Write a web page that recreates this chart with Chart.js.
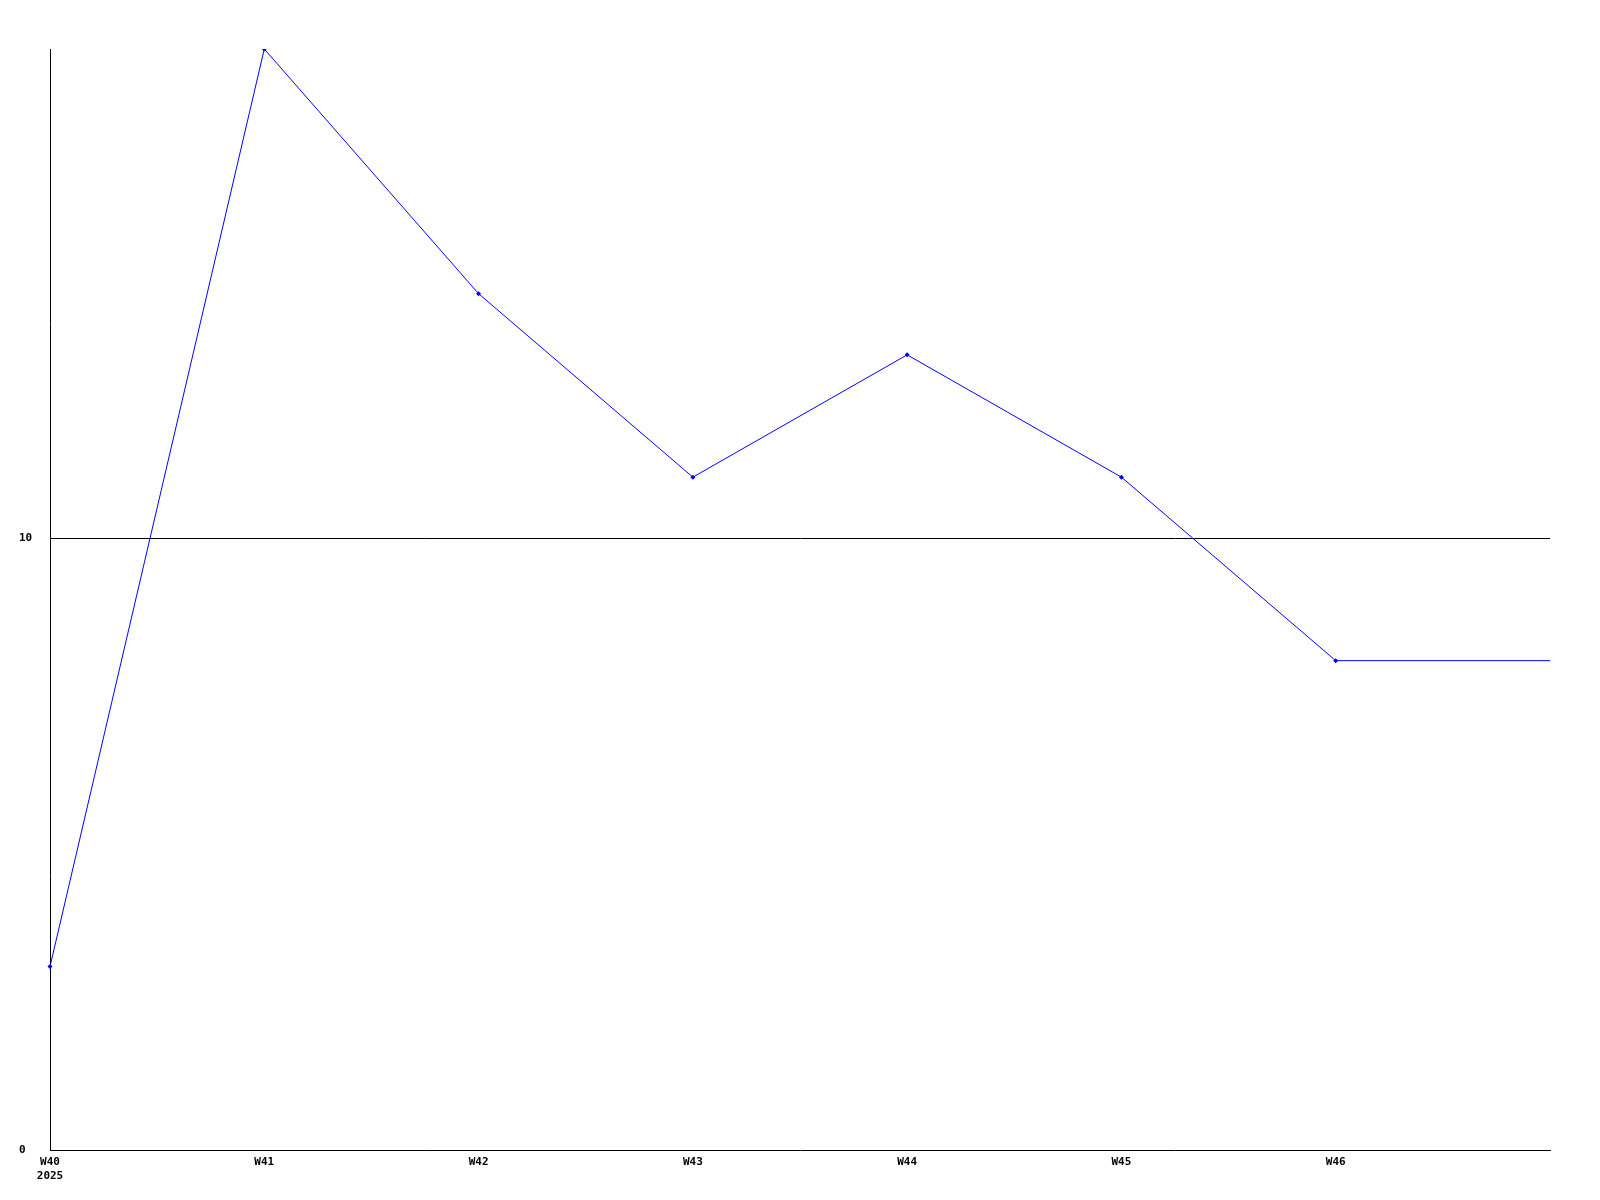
<!DOCTYPE html>
<html>
<head>
<meta charset="utf-8">
<script src="https://cdn.jsdelivr.net/npm/chart.js@4/dist/chart.umd.min.js"></script>
<style>
html,body{margin:0;padding:0;background:#fff;}
#wrap{width:1600px;height:1200px;position:relative;}
</style>
</head>
<body>
<div id="wrap"><canvas id="c" width="1600" height="1200"></canvas></div>
<script>
const weeks = [["W40","2025"],"W41","W42","W43","W44","W45","W46",""];
const values = [3, 18, 14, 11, 13, 11, 8, 8];
const yTicks = [0, 10];
const yMin = 0, yMax = 18;

const font = {family: "'DejaVu Sans Mono', 'Liberation Mono', monospace", size: 11, weight: 'bold'};

new Chart(document.getElementById('c'), {
  type: 'line',
  data: {
    labels: weeks,
    datasets: [{
      data: values,
      borderColor: '#0000ff',
      backgroundColor: '#0000ff',
      borderWidth: 1,
      pointStyle: 'rectRot',
      pointRadius: values.map((v, i) => i === values.length - 1 ? 0 : 2.5),
      pointBorderWidth: 0,
      tension: 0,
      fill: false
    }]
  },
  options: {
    responsive: false,
    animation: false,
    plugins: {legend: {display: false}, tooltip: {enabled: false}},
    layout: {padding: {top: 49, right: 50, left: 19, bottom: 0}},
    scales: {
      x: {
        offset: false,
        grid: {display: false, drawTicks: false},
        border: {display: true, color: '#000', width: 1},
        ticks: {color: '#000', font: font, padding: 6, maxRotation: 0, autoSkip: false},
        afterFit: (s) => { s.height = 50; }
      },
      y: {
        min: yMin, max: yMax,
        afterBuildTicks: (s) => { s.ticks = yTicks.map(v => ({value: v})); },
        grid: {color: (ctx) => ctx.tick && ctx.tick.value === 0 ? 'rgba(0,0,0,0)' : '#000', lineWidth: 1, drawTicks: false},
        border: {display: true, color: '#000', width: 1},
        ticks: {color: '#000', font: font, padding: 17, crossAlign: 'far'},
        afterFit: (s) => { s.width = 31; }
      }
    }
  }
});
</script>
</body>
</html>
